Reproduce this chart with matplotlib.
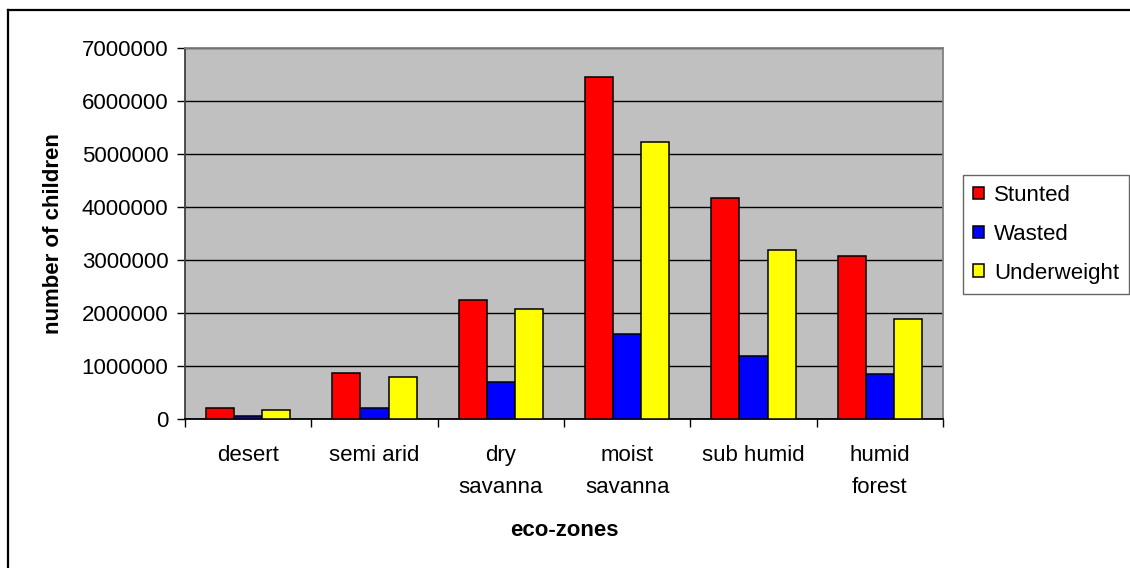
import matplotlib
matplotlib.use("Agg")
import numpy as np
import matplotlib.pyplot as plt
from matplotlib.lines import Line2D

# data
zones = ["desert", "semi arid", "dry\nsavanna", "moist\nsavanna", "sub humid", "humid\nforest"]
stunted = [200000, 870000, 2240000, 6450000, 4170000, 3080000]
wasted = [63000, 210000, 700000, 1600000, 1190000, 840000]
underweight = [170000, 800000, 2070000, 5220000, 3190000, 1890000]
series_names = ["Stunted", "Wasted", "Underweight"]
series_colors = ["#FF0000", "#0000FF", "#FFFF00"]

plt.rcParams["font.family"] = ["Liberation Sans", "DejaVu Sans"]
FS = 16

fig = plt.figure(figsize=(11.3, 5.68), dpi=100)
W, H = 1130, 568
ax = fig.add_axes([185 / W, 1 - 419 / H, 758 / W, 371 / H])
ax.set_facecolor("#C0C0C0")

x = np.arange(len(zones))
bw = 1 / 4.5
for i, (vals, name, col) in enumerate(zip([stunted, wasted, underweight], series_names, series_colors)):
    ax.bar(x + (i - 1) * bw, vals, width=bw, color=col, edgecolor="black",
           linewidth=1.1, label=name, zorder=3)

ax.set_xlim(-0.5, len(zones) - 0.5)
ax.set_ylim(0, 7000000)
ax.set_yticks(np.arange(0, 7000001, 1000000))
ax.set_yticklabels([str(v) for v in range(0, 7000001, 1000000)], fontsize=FS)
ax.yaxis.grid(True, color="black", linewidth=1.0, zorder=1)
ax.set_axisbelow(True)

ax.set_xticks(x)
ax.set_xticklabels(zones, fontsize=FS, linespacing=1.65)
ax.set_xticks(np.arange(-0.5, len(zones)), minor=True)
ax.tick_params(axis="x", which="major", length=0, pad=19)
ax.tick_params(axis="x", which="minor", length=6, width=1, color="black")
ax.tick_params(axis="y", length=6, width=1, pad=6)

ax.spines["top"].set_color("#808080")
ax.spines["right"].set_color("#808080")
ax.spines["left"].set_color("#404040")
ax.spines["bottom"].set_color("black")
for s in ax.spines.values():
    s.set_linewidth(1.3)

ax.set_xlabel("eco-zones", fontsize=FS, fontweight="bold", labelpad=16)
ax.set_ylabel("number of children", fontsize=FS, fontweight="bold", labelpad=13)

leg = ax.legend(loc="upper left", bbox_to_anchor=(963 / W, 1 - 175 / H),
                bbox_transform=fig.transFigure, fontsize=FS, frameon=True,
                fancybox=False, handlelength=0.5, handleheight=0.5,
                handletextpad=0.45, labelspacing=0.8, borderpad=0.45,
                borderaxespad=0)
leg.get_frame().set_edgecolor("#404040")
leg.get_frame().set_linewidth(1.0)

# outer chart border (top and left visible)
fig.add_artist(Line2D([8 / W, 8 / W], [0, 1 - 10 / H], transform=fig.transFigure,
                      color="black", linewidth=1.6))
fig.add_artist(Line2D([8 / W, 1], [1 - 10 / H, 1 - 10 / H], transform=fig.transFigure,
                      color="black", linewidth=1.6))

fig.savefig("out.png", dpi=100, facecolor="white")
